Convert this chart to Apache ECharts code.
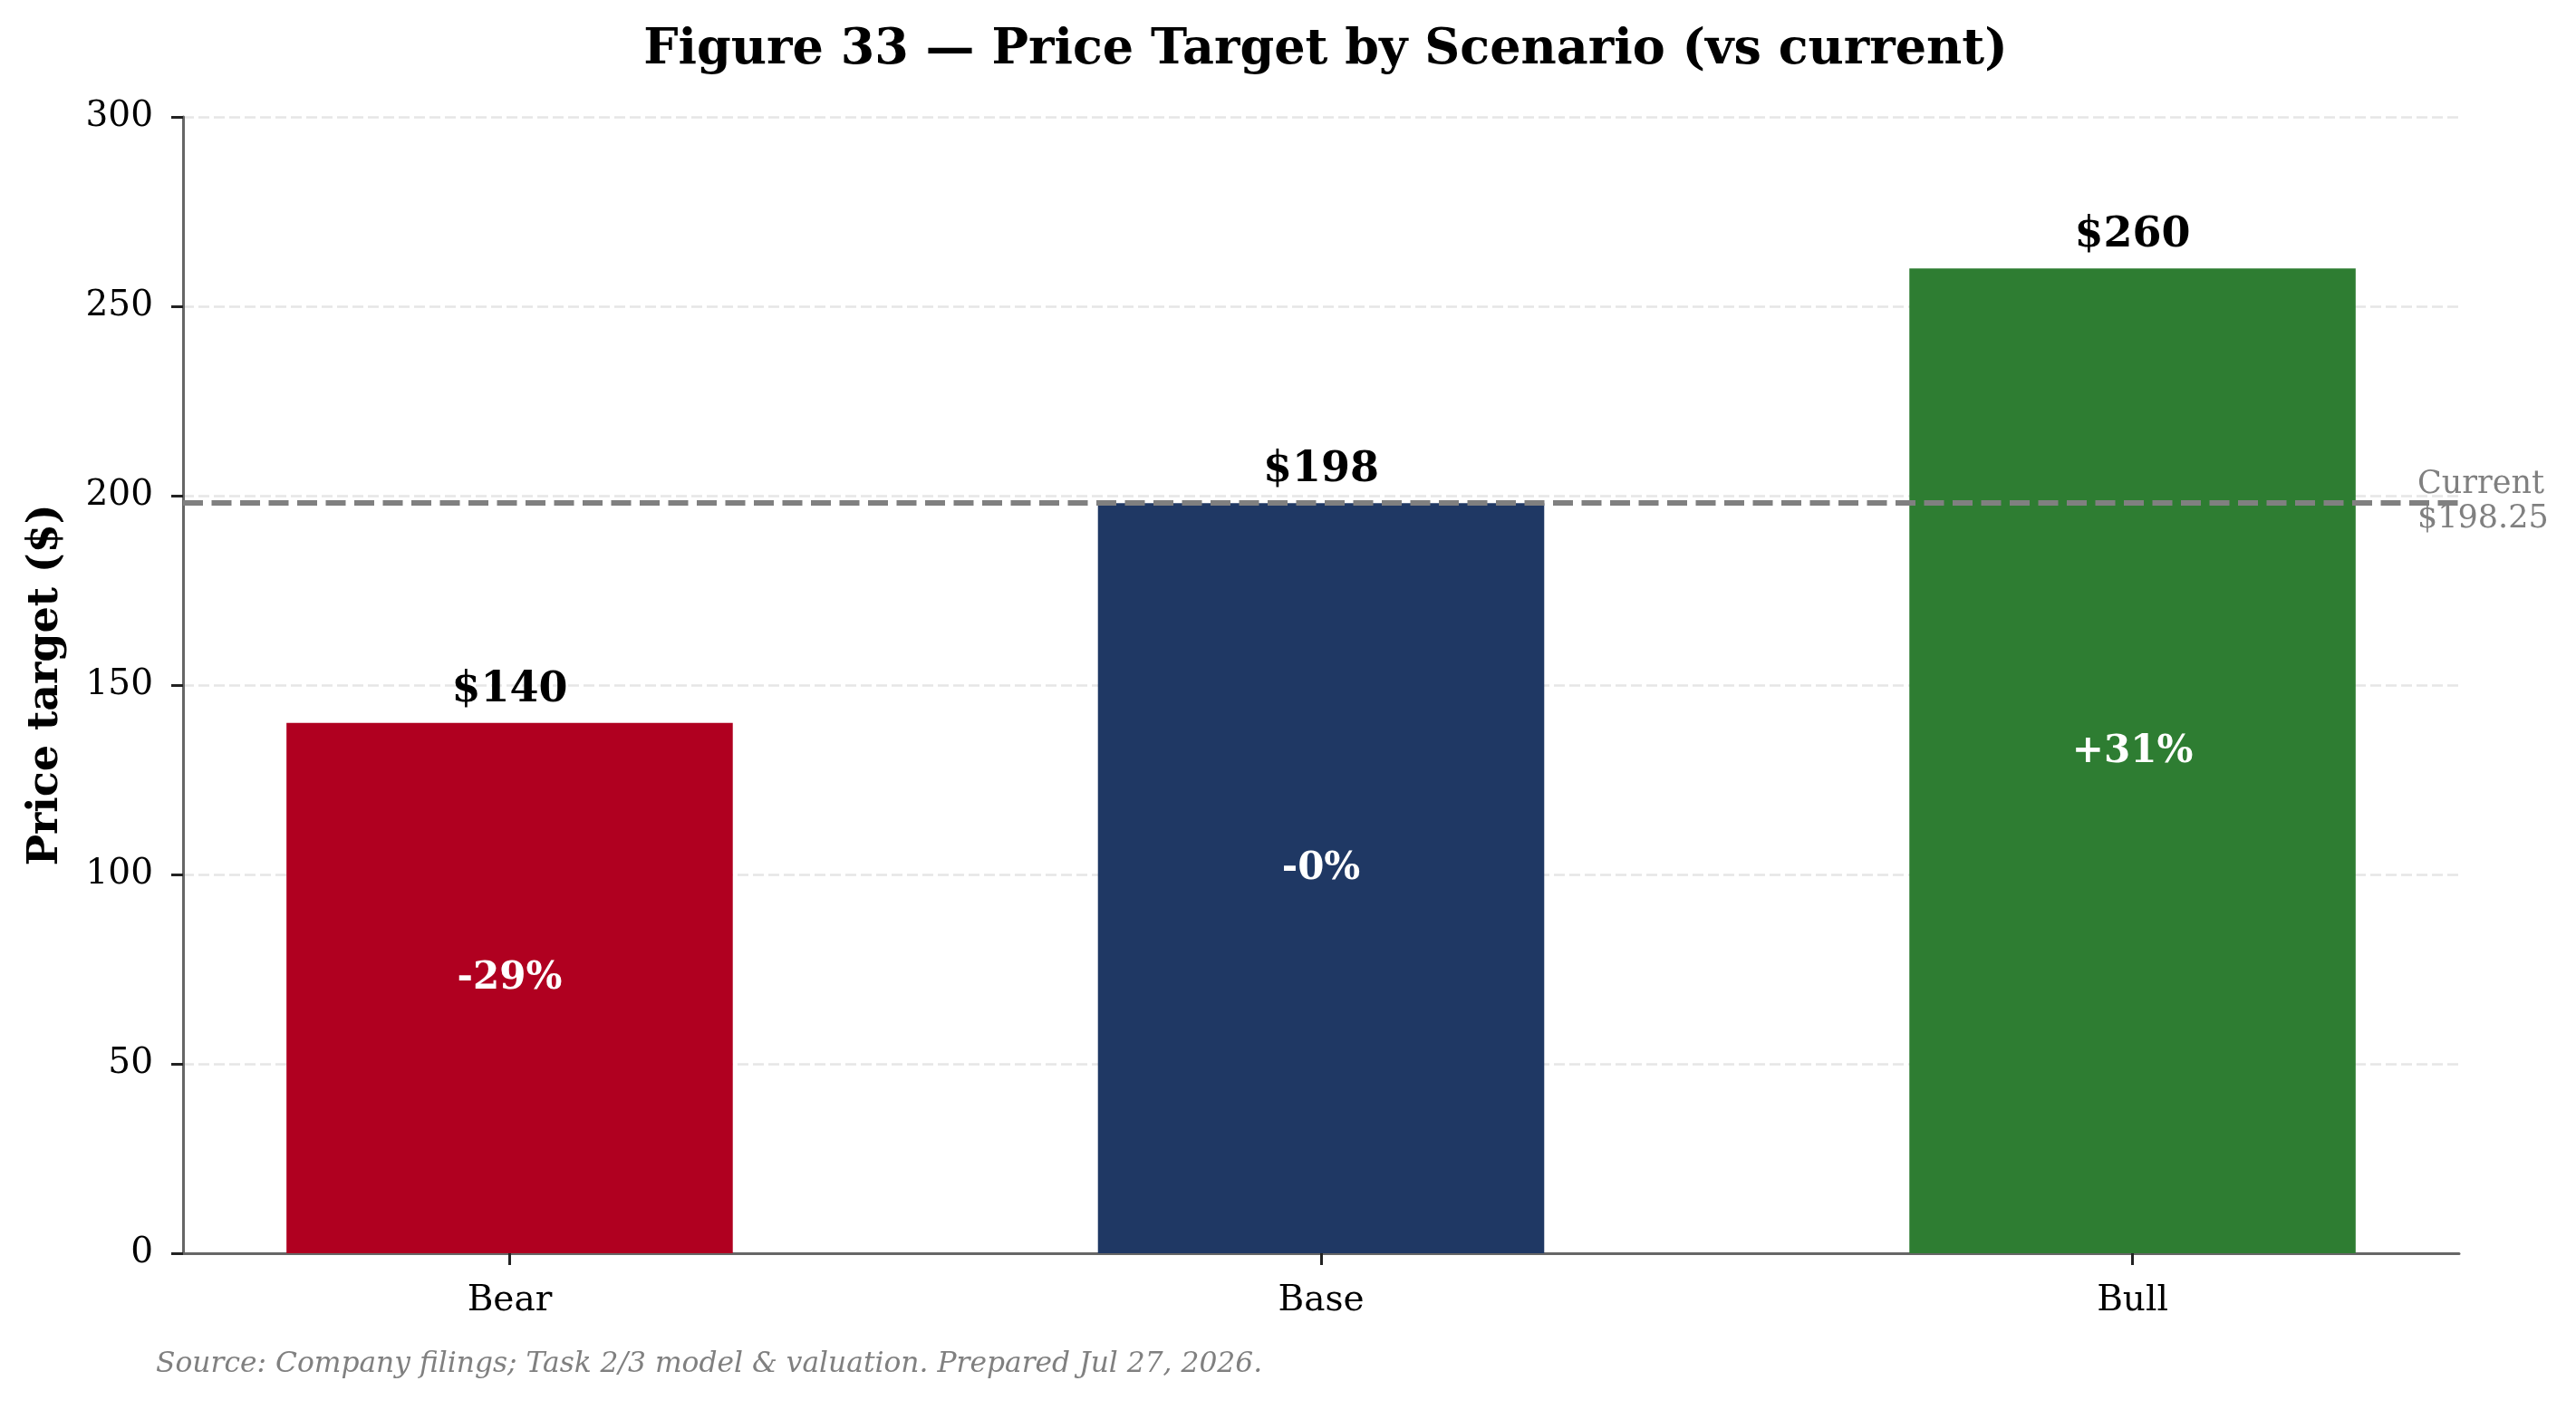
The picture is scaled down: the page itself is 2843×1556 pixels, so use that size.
<!DOCTYPE html>
<html>
<head>
<meta charset="utf-8">
<script src="https://cdn.jsdelivr.net/npm/echarts@6/dist/echarts.min.js"></script>
<style>
html,body{margin:0;padding:0;background:#fff;}
#chart{width:2843px;height:1556px;}
</style>
</head>
<body>
<div id="chart"></div>
<script>
// ---- data ----
const scenarios = ['Bear', 'Base', 'Bull'];
const priceTargets = [140, 198, 260];
const upsideLabels = ['-29%', '-0%', '+31%'];
const barColors = ['#b00020', '#1f3864', '#2e7d32'];
const currentPrice = 198.25;
const yTicks = [0, 50, 100, 150, 200, 250, 300];
const titleText = 'Figure 33 \u2014 Price Target by Scenario (vs current)';
const yAxisTitle = 'Price target ($)';
const footerText = 'Source: Company filings; Task 2/3 model & valuation. Prepared Jul 27, 2026.';

const FONT = 'DejaVu Serif';
const positions = scenarios.map((_, i) => i);

const chart = echarts.init(document.getElementById('chart'), null, {renderer: 'canvas'});

const option = {
  animation: false,
  backgroundColor: '#ffffff',
  title: {
    text: titleText,
    left: 1458,
    top: 24,
    textAlign: 'center',
    textStyle: {fontFamily: FONT, fontWeight: 'bold', fontSize: 54, color: '#000'}
  },
  grid: {left: 202, right: 129, top: 129, bottom: 173, containLabel: false},
  xAxis: {
    type: 'value',
    min: -0.4025,
    max: 2.4025,
    splitLine: {show: false},
    axisLine: {show: true, onZero: false, lineStyle: {color: '#666666', width: 3}},
    axisTick: {show: true, customValues: positions, length: 13, lineStyle: {color: '#222', width: 3}},
    axisLabel: {
      show: true,
      customValues: positions,
      margin: 33,
      formatter: v => scenarios[Math.round(v)],
      fontFamily: FONT, fontSize: 39, color: '#000'
    }
  },
  yAxis: {
    type: 'value',
    min: yTicks[0],
    max: yTicks[yTicks.length - 1],
    interval: 50,
    name: yAxisTitle,
    nameLocation: 'middle',
    nameGap: 128,
    nameRotate: 90,
    nameTextStyle: {fontFamily: FONT, fontWeight: 'bold', fontSize: 46, color: '#000'},
    axisLine: {show: true, onZero: false, lineStyle: {color: '#666666', width: 3}},
    axisTick: {show: true, length: 13, lineStyle: {color: '#222', width: 3}},
    axisLabel: {margin: 33, fontFamily: FONT, fontSize: 39, color: '#000'},
    splitLine: {show: true, lineStyle: {color: '#e6e6e6', width: 2.5, type: [12, 5]}}
  },
  series: [
    {
      type: 'bar',
      barWidth: '55%',
      barGap: '-100%',
      data: priceTargets.map((v, i) => ({value: [i, v], itemStyle: {color: barColors[i]}})),
      label: {
        show: true,
        position: 'top',
        distance: 13,
        formatter: p => '$' + p.value[1],
        fontFamily: FONT, fontWeight: 'bold', fontSize: 46, color: '#000'
      },
      markLine: {
        silent: true,
        symbol: 'none',
        data: [{yAxis: currentPrice}],
        lineStyle: {color: '#808080', width: 5.8, type: [22, 9.5]},
        label: {
          show: true,
          position: 'end',
          formatter: 'Current\n$' + currentPrice.toFixed(2),
          offset: [-51, 0],
          align: 'left',
          lineHeight: 38,
          fontFamily: FONT, fontSize: 35, color: '#808080'
        },
        z: 10
      }
    },
    {
      type: 'bar',
      barWidth: '55%',
      barGap: '-100%',
      data: priceTargets.map((v, i) => ({value: [i, v]})),
      itemStyle: {color: 'rgba(0,0,0,0)'},
      label: {
        show: true,
        position: 'inside',
        offset: [0, -10],
        formatter: p => upsideLabels[p.dataIndex],
        fontFamily: FONT, fontWeight: 'bold', fontSize: 42, color: '#ffffff'
      },
      z: 3
    }
  ],
  graphic: [
    {
      type: 'text',
      left: 172,
      top: 1490,
      style: {
        text: footerText,
        fontFamily: FONT, fontStyle: 'italic', fontSize: 31.3, fill: '#808080'
      }
    }
  ]
};

chart.setOption(option);
</script>
</body>
</html>
